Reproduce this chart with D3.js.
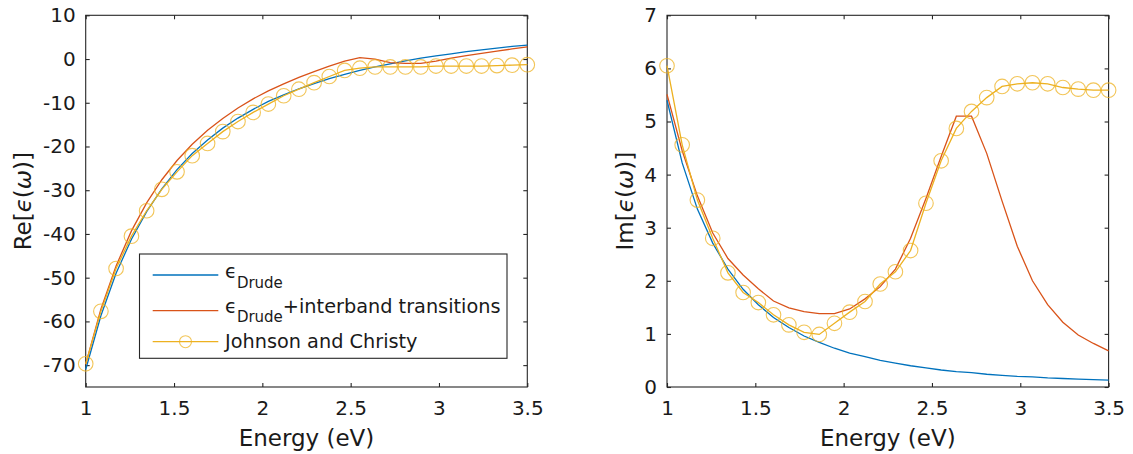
<!DOCTYPE html>
<html>
<head>
<meta charset="utf-8">
<script src="https://cdn.jsdelivr.net/npm/d3@7"></script>
<style>
    body { margin: 0; background: #fff; }
    text { font-family: "DejaVu Sans", sans-serif; fill: #1a1a1a; }
</style>
</head>
<body>
<svg id="chart" width="1133" height="454"></svg>
<script>
// photon energies (eV) shared by every series
const energy = [1.000, 1.086, 1.172, 1.259, 1.345, 1.431, 1.517, 1.603, 1.690, 1.776,
    1.862, 1.948, 2.034, 2.121, 2.207, 2.293, 2.379, 2.466, 2.552, 2.638,
    2.724, 2.810, 2.897, 2.983, 3.069, 3.155, 3.241, 3.328, 3.414, 3.500];

// real part
const reDrude = [-71.0, -58.7, -49.0, -41.2, -34.9, -29.7, -25.3, -21.6, -18.5, -15.8,
    -13.5, -11.5, -9.7, -8.2, -6.8, -5.6, -4.5, -3.5, -2.6, -1.8,
    -1.1, -0.4, 0.2, 0.7, 1.2, 1.7, 2.1, 2.5, 2.9, 3.2];
const reInterband = [-69.8, -57.2, -47.3, -39.3, -32.9, -27.6, -23.2, -19.5, -16.3, -13.6,
    -11.2, -9.1, -7.3, -5.7, -4.2, -2.9, -1.6, -0.5, 0.3, 0.0,
    -0.8, -1.0, -1.0, -0.5, 0.2, 0.8, 1.3, 1.8, 2.3, 2.8];
const reJC = [-69.7, -57.7, -47.9, -40.5, -34.7, -29.8, -25.8, -22.1, -19.3, -16.6,
    -14.3, -12.2, -10.3, -8.4, -6.9, -5.4, -4.0, -2.6, -2.1, -1.8,
    -1.8, -1.8, -1.8, -1.6, -1.6, -1.6, -1.6, -1.5, -1.4, -1.3];

// imaginary part
const imDrude = [5.40, 4.22, 3.35, 2.71, 2.22, 1.84, 1.55, 1.31, 1.12, 0.96,
    0.84, 0.73, 0.64, 0.57, 0.50, 0.45, 0.40, 0.36, 0.32, 0.29,
    0.27, 0.24, 0.22, 0.20, 0.19, 0.17, 0.16, 0.15, 0.14, 0.13];
const imInterband = [5.51, 4.45, 3.60, 2.90, 2.42, 2.11, 1.85, 1.62, 1.49, 1.42,
    1.38, 1.38, 1.47, 1.66, 1.89, 2.22, 2.80, 3.55, 4.34, 5.10,
    5.10, 4.40, 3.50, 2.65, 2.00, 1.55, 1.22, 0.98, 0.82, 0.68];
const imJC = [6.05, 4.56, 3.52, 2.80, 2.15, 1.78, 1.59, 1.36, 1.17, 1.03,
    0.99, 1.20, 1.41, 1.61, 1.94, 2.17, 2.57, 3.46, 4.26, 4.87,
    5.19, 5.45, 5.66, 5.71, 5.73, 5.71, 5.64, 5.61, 5.59, 5.59];

const xTicks = [1, 1.5, 2, 2.5, 3, 3.5];
const reTicks = [-70, -60, -50, -40, -30, -20, -10, 0, 10];
const imTicks = [0, 1, 2, 3, 4, 5, 6, 7];

const colors = {drude: "#0072BD", inter: "#D95319", jc: "#EDB120"};

class EpsPlot {
    constructor(svg, opts) {
        this.svg = svg;
        this.opts = opts;
        this.initVis();
    }

    initVis() {
        let vis = this;
        let o = vis.opts;

        vis.g = vis.svg.append("g")
            .attr("transform", `translate(${o.left}, ${o.top})`);

        vis.x = d3.scaleLinear().domain([1, 3.5]).range([0, o.width]);
        vis.y = d3.scaleLinear().domain(o.yDomain).range([o.height, 0]);

        // plain hyphen for negatives, like the matlab labels
        let fmt = d => String(d);

        // axes with inward ticks on all four sides (box on)
        vis.g.append("g")
            .attr("class", "axis")
            .attr("transform", `translate(0, ${o.height})`)
            .call(d3.axisBottom(vis.x).tickValues(xTicks).tickSize(-4).tickSizeOuter(0).tickPadding(14)
                .tickFormat(fmt));
        vis.g.append("g")
            .attr("class", "axis")
            .call(d3.axisTop(vis.x).tickValues(xTicks).tickSize(-4).tickSizeOuter(0).tickFormat(""));
        vis.g.append("g")
            .attr("class", "axis")
            .call(d3.axisLeft(vis.y).tickValues(o.yTicks).tickSize(-4).tickSizeOuter(0).tickPadding(10)
                .tickFormat(fmt));
        vis.g.append("g")
            .attr("class", "axis")
            .attr("transform", `translate(${o.width}, 0)`)
            .call(d3.axisRight(vis.y).tickValues(o.yTicks).tickSize(-4).tickSizeOuter(0).tickFormat(""));

        vis.g.selectAll(".axis path, .axis line").attr("stroke", "#262626").attr("stroke-width", 1.1);
        vis.g.selectAll(".axis text").attr("font-size", 20).attr("font-family", "DejaVu Sans").attr("fill", "#1a1a1a");
        vis.g.selectAll(".axis .domain").remove();

        vis.g.append("rect")
            .attr("width", o.width).attr("height", o.height)
            .attr("fill", "none").attr("stroke", "#262626").attr("stroke-width", 1.1);

        // axis labels
        vis.g.append("text")
            .attr("x", o.width / 2).attr("y", 446.5 - o.top)
            .attr("text-anchor", "middle").attr("font-size", 23)
            .text("Energy (eV)");

        let yl = vis.g.append("text")
            .attr("transform", `translate(${o.yLabelX - o.left}, ${o.height / 2}) rotate(-90)`)
            .attr("text-anchor", "middle").attr("font-size", 23);
        yl.append("tspan").text(o.yPrefix + "[");
        yl.append("tspan").attr("font-style", "italic").text("\u03F5");
        yl.append("tspan").text("(");
        yl.append("tspan").attr("font-style", "italic").text("\u03C9");
        yl.append("tspan").text(")]");

        vis.line = d3.line().x(d => vis.x(d[0])).y(d => vis.y(d[1]));

        vis.updateVis();
    }

    updateVis() {
        let vis = this;
        let o = vis.opts;

        let series = [
            {vals: o.drude, color: colors.drude},
            {vals: o.inter, color: colors.inter},
            {vals: o.jc, color: colors.jc}
        ];

        vis.g.selectAll(".curve")
            .data(series)
            .enter()
            .append("path")
            .attr("class", "curve")
            .attr("d", d => vis.line(energy.map((e, i) => [e, d.vals[i]])))
            .attr("fill", "none")
            .attr("stroke", d => d.color)
            .attr("stroke-width", 1.3);

        vis.g.selectAll(".marker")
            .data(energy.map((e, i) => [e, o.jc[i]]))
            .enter()
            .append("circle")
            .attr("class", "marker")
            .attr("cx", d => vis.x(d[0]))
            .attr("cy", d => vis.y(d[1]))
            .attr("r", 7.3)
            .attr("fill", "none")
            .attr("stroke", colors.jc)
            .attr("stroke-opacity", 0.75)
            .attr("stroke-width", 1.1);
    }
}

const svg = d3.select("#chart");

new EpsPlot(svg, {
    left: 85.7, top: 15.3, width: 441.6, height: 371.7,
    yDomain: [-75, 10], yTicks: reTicks, yPrefix: "Re", yLabelX: 31,
    drude: reDrude, inter: reInterband, jc: reJC
});

new EpsPlot(svg, {
    left: 667, top: 15.3, width: 441.6, height: 371.7,
    yDomain: [0, 7], yTicks: imTicks, yPrefix: "Im", yLabelX: 633,
    drude: imDrude, inter: imInterband, jc: imJC
});

// legend in the left panel
const legend = svg.append("g");
legend.append("rect")
    .attr("x", 139.5).attr("y", 254).attr("width", 367.5).attr("height", 104.3)
    .attr("fill", "#fff").attr("stroke", "#262626").attr("stroke-width", 1.1);

const legendRows = [
    {color: colors.drude, lineY: 275, textY: 278, label: ["\u03F5", "Drude", ""]},
    {color: colors.inter, lineY: 310.7, textY: 312.5, label: ["\u03F5", "Drude", "+interband transitions"]},
    {color: colors.jc, lineY: 341.7, textY: 348, label: ["Johnson and Christy"], marker: true}
];

legendRows.forEach(r => {
    legend.append("line")
        .attr("x1", 152.7).attr("x2", 218.3).attr("y1", r.lineY).attr("y2", r.lineY)
        .attr("stroke", r.color).attr("stroke-width", 1.3);
    if (r.marker) {
        legend.append("circle")
            .attr("cx", 185.5).attr("cy", r.lineY).attr("r", 6)
            .attr("fill", "none").attr("stroke", r.color).attr("stroke-opacity", 0.75).attr("stroke-width", 1.1);
    }
    let t = legend.append("text").attr("x", 225).attr("y", r.textY).attr("font-size", 19.3);
    if (r.label.length === 1) {
        t.text(r.label[0]);
    } else {
        t.append("tspan").text(r.label[0]);
        t.append("tspan").attr("font-size", 15).attr("dy", 9.5).text(r.label[1]);
        if (r.label[2]) t.append("tspan").attr("dy", -9.5).text(r.label[2]);
    }
});
</script>
</body>
</html>
